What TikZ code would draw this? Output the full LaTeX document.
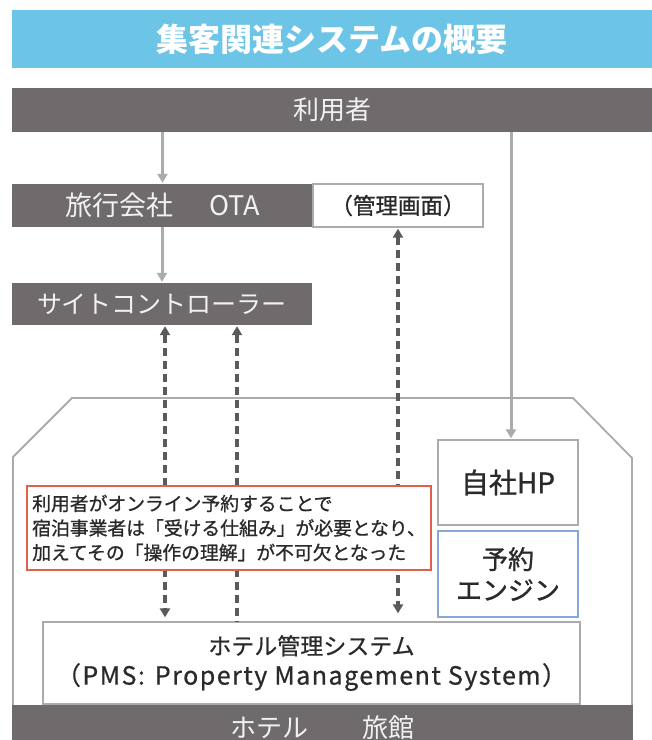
\documentclass[tikz,border=0pt]{standalone}
\usepackage{fontspec}
\setmainfont{Noto Sans CJK JP}
\usetikzlibrary{arrows.meta}
\definecolor{titleblue}{HTML}{6CC4E6}
\definecolor{darkbar}{HTML}{6F6A6B}
\definecolor{lightline}{HTML}{ABABAB}
\definecolor{dashgray}{HTML}{5A5A5A}
\definecolor{boxline}{HTML}{ABABAB}
\definecolor{notered}{HTML}{E0604E}
\definecolor{engblue}{HTML}{86A8DA}
\definecolor{txtdark}{HTML}{2A2A2A}
\definecolor{txtlight}{HTML}{F2F2F2}
\newcommand{\myfs}[2]{\fontsize{#1pt}{#2pt}\selectfont}
\newcommand{\medw}{\addfontfeature{FakeBold=1}}
\begin{document}
\begin{tikzpicture}[x=1pt,y=-1pt,
  bar/.style={rectangle, fill=darkbar, draw=none, text=txtlight, inner sep=0pt},
  wbox/.style={rectangle, fill=white, draw=boxline, line width=1.3pt, text=txtdark, inner sep=0pt, align=center},
  solidarrow/.style={draw=lightline, line width=3pt, -{Triangle[length=9pt,width=10pt]}},
  dasharrow/.style={draw=dashgray, line width=3.2pt, dash pattern=on 8pt off 5pt},
  houseline/.style={draw=lightline, line width=1.8pt, fill=white}
]
\useasboundingbox (0,0) rectangle (652,740);
\fill[white] (0,0) rectangle (652,740);

% title
\node[rectangle, fill=titleblue, inner sep=0pt, minimum width=640pt, minimum height=58pt, text=white, font=\myfs{32}{36}\bfseries] (title) at (332,39) {集客関連システムの概要};

% top nodes
\node[bar, minimum width=640pt, minimum height=44pt, font=\myfs{26}{30}] (user) at (332,110) {利用者};
\node[bar, minimum width=301pt, minimum height=43pt, font=\myfs{27}{30}] (ota) at (162.5,205.5) {旅行会社\hspace{36pt}OTA};
\node[wbox, minimum width=170pt, minimum height=43pt, font=\myfs{22.5}{26}\medw] (kanri) at (398,205.5) {（管理画面）};
\node[bar, minimum width=300pt, minimum height=42pt, font=\myfs{25}{30}] (site) at (162,304) {サイトコントローラー};

% house outline
\draw[houseline] (13,707) -- (13,457) -- (72,398) -- (573,398) -- (632,458) -- (632,707);

% inner boxes
\node[wbox, minimum width=140pt, minimum height=85pt, font=\myfs{28}{30}\medw] (jisha) at (508,482.5) {自社HP};
\node[wbox, draw=engblue, minimum width=140pt, minimum height=86pt, font=\myfs{26}{31}\medw] (yoyaku) at (508,574) {予約\\エンジン};
\node[wbox, minimum width=537pt, minimum height=82pt, font=\myfs{23}{30}\addfontfeature{FakeBold=0.6}] (pms) at (311.5,663) {ホテル管理システム\\{\myfs{25}{30}\addfontfeature{LetterSpace=6}（PMS:\hspace{10pt}Property Management System）}};
\node[bar, minimum width=621pt, minimum height=46pt, font=\myfs{26}{30}] (hotel) at (322.5,728) {ホテル\hspace{54pt}旅館};

% helper coordinates for connector columns
\coordinate (hp) at (511,0);
\coordinate (dA) at (165,0);
\coordinate (dB) at (237,0);
\coordinate (dC) at (398,0);

% solid arrows
\draw[solidarrow, shorten >=1pt] (user.south -| ota.north) -- (ota.north);
\draw[solidarrow, shorten >=1pt] (ota.south -| site.north) -- (site.north);
\draw[solidarrow, shorten >=1pt] (user.south -| hp) -- (jisha.north -| hp);

% dashed arrows
\draw[dasharrow, {Triangle[length=9pt,width=10pt]}-{Triangle[length=9pt,width=10pt]}, shorten <=1pt, shorten >=4pt] (site.south -| dA) -- (pms.north -| dA);
\draw[dasharrow, {Triangle[length=9pt,width=10pt]}-, shorten <=1pt] (site.south -| dB) -- (pms.north -| dB);
\draw[dasharrow, {Triangle[length=9pt,width=10pt]}-{Triangle[length=9pt,width=10pt]}, shorten <=1pt, shorten >=8pt] (kanri.south -| dC) -- (pms.north -| dC);

% note box
\node[rectangle, fill=white, draw=notered, line width=1.5pt, minimum width=404pt, minimum height=84pt, inner sep=0pt, align=left, text=txtdark, font=\myfs{18.8}{24.5}\medw] (note) at (229,528) {利用者がオンライン予約することで\\宿泊事業者は「受ける仕組み」が必要となり、\\加えてその「操作の理解」が不可欠となった};
\end{tikzpicture}
\end{document}
